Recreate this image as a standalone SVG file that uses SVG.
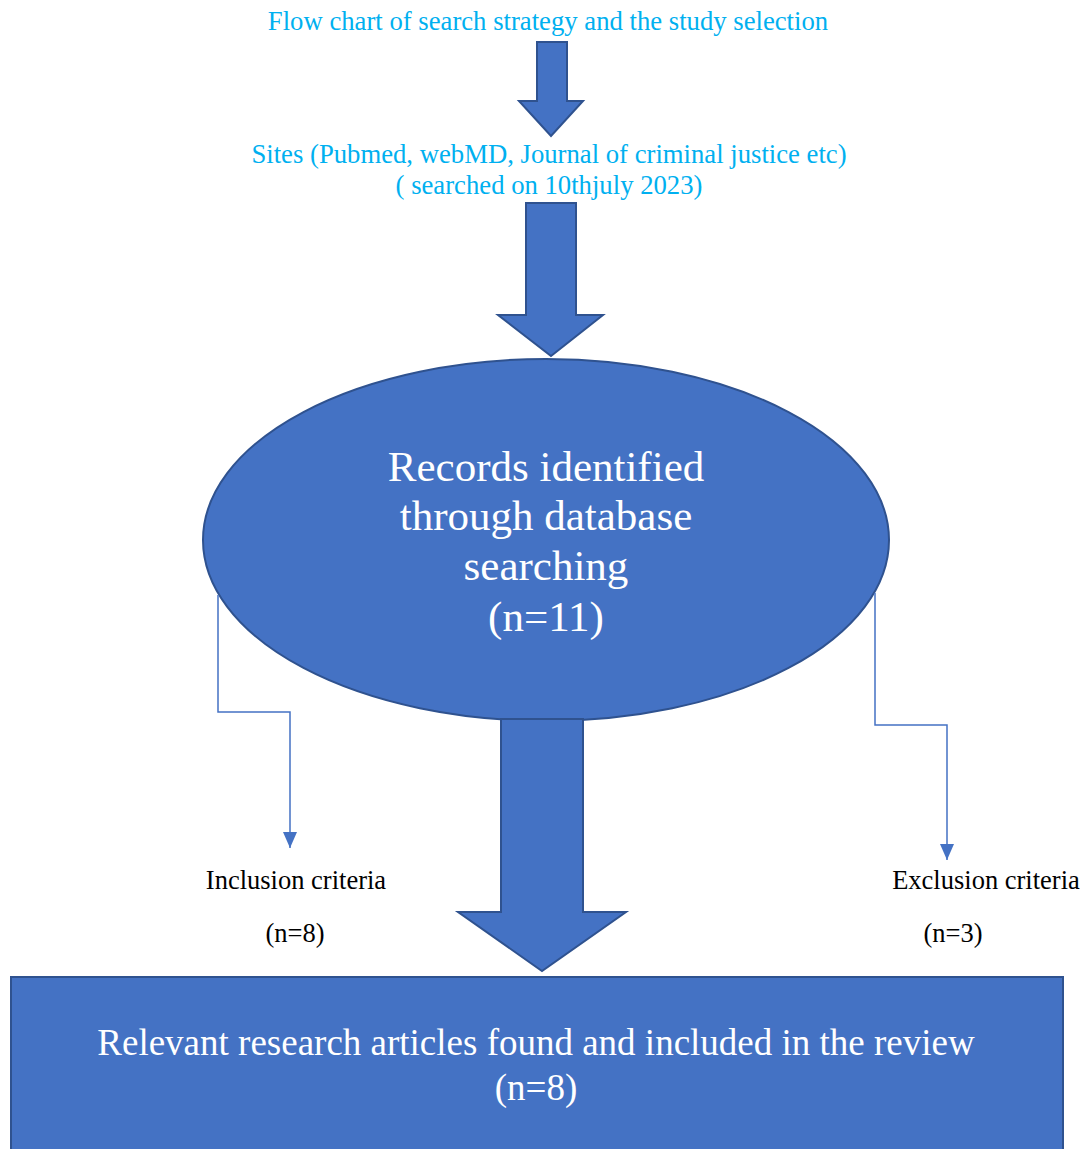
<svg xmlns="http://www.w3.org/2000/svg" width="1084" height="1149" viewBox="0 0 1084 1149">
<style>
.shape{fill:#4472C4;stroke:#2F528F;stroke-width:2}
.cyan{font-family:"Liberation Serif",serif;fill:#00B0F0;font-size:26.7px;text-anchor:middle}
.white{font-family:"Liberation Serif",serif;fill:#FFFFFF;text-anchor:middle}
.black{font-family:"Liberation Serif",serif;fill:#000000;font-size:26.5px;text-anchor:middle}
.conn{fill:none;stroke:#4472C4;stroke-width:1.5}
</style>
<defs>
<marker id="ah" markerWidth="16" markerHeight="14" refX="16" refY="7" orient="auto" markerUnits="userSpaceOnUse" viewBox="0 0 16 14">
<path d="M0,0 L16,7 L0,14 Z" fill="#4472C4"/>
</marker>
</defs>
<rect width="1084" height="1149" fill="#FFFFFF"/>
<g id="title"><text class="cyan" x="548" y="30">Flow chart of search strategy and the study selection</text></g>
<g id="sites">
<text class="cyan" x="549" y="163">Sites (Pubmed, webMD, Journal of criminal justice etc)</text>
<text class="cyan" x="549" y="194">( searched on 10thjuly 2023)</text>
</g>
<g id="records">
<ellipse class="shape" cx="546" cy="540" rx="343" ry="181"/>
<text class="white" font-size="43" x="546" y="481">Records identified</text>
<text class="white" font-size="43" x="546" y="530">through database</text>
<text class="white" font-size="43" x="546" y="580">searching</text>
<text class="white" font-size="43" x="546" y="631">(n=11)</text>
</g>
<g id="inclusion">
<text class="black" x="296" y="889">Inclusion criteria</text>
<text class="black" x="295" y="942">(n=8)</text>
</g>
<g id="exclusion">
<text class="black" x="986" y="889">Exclusion criteria</text>
<text class="black" x="953" y="942">(n=3)</text>
</g>
<g id="result">
<rect class="shape" x="11" y="977" width="1052" height="180"/>
<text class="white" font-size="37" x="536" y="1055">Relevant research articles found and included in the review</text>
<text class="white" font-size="37" x="536" y="1100">(n=8)</text>
</g>
<g id="connectors">
<path class="shape" d="M537,42 L567,42 L567,101 L583,101 L551,136 L519,101 L537,101 Z"/>
<path class="shape" d="M526,203 L576,203 L576,315 L603,315 L551,356 L498,315 L526,315 Z"/>
<path class="shape" d="M501,719 L583,719 L583,912 L626,912 L542,971 L458,912 L501,912 Z"/>
<path class="conn" d="M218,595 L218,712 L290,712 L290,848" marker-end="url(#ah)"/>
<path class="conn" d="M875,593 L875,725 L947,725 L947,860" marker-end="url(#ah)"/>
</g>
</svg>
